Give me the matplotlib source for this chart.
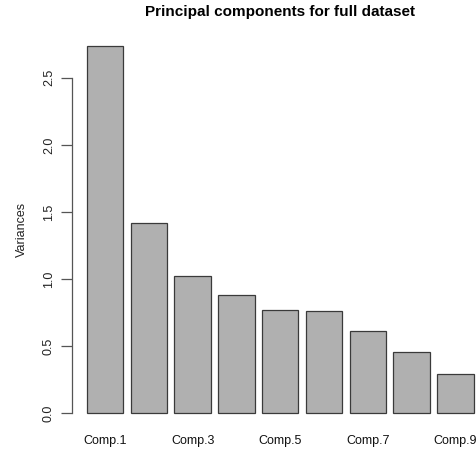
import matplotlib
matplotlib.use("Agg")
import matplotlib.pyplot as plt
import numpy as np

categories = ["Comp.1", "Comp.2", "Comp.3", "Comp.4", "Comp.5", "Comp.6", "Comp.7", "Comp.8", "Comp.9"]
variances = [2.74, 1.418, 1.025, 0.883, 0.771, 0.763, 0.614, 0.457, 0.293]
yticks = [0.0, 0.5, 1.0, 1.5, 2.0, 2.5]

plt.rcParams['font.family'] = ['Liberation Sans', 'DejaVu Sans']

fig = plt.figure(figsize=(4.77, 4.5), dpi=100)
# R-like plot region (the right side extends past the image edge, as in the reference)
left = 71.5 / 477
right = 489.0 / 477
bottom = 1 - 427.7 / 450
top = 1 - 31.0 / 450
ax = fig.add_axes([left, bottom, right - left, top - bottom])

n = len(variances)
x = 0.2 + 1.2 * np.arange(n) + 0.5
ax.bar(x, variances, width=1.0, color="#b0b0b0", edgecolor="#3a3a3a", linewidth=0.9)

xr = (0.2, 1.2 * n)
pad = 0.04 * (xr[1] - xr[0])
ax.set_xlim(xr[0] - pad, xr[1] + pad)
ymax = max(variances)
ax.set_ylim(-0.04 * ymax, ymax * 1.04)

for s in ["top", "right", "bottom"]:
    ax.spines[s].set_visible(False)
ax.spines["left"].set_bounds(yticks[0], yticks[-1])
ax.spines["left"].set_color("#555555")
ax.spines["left"].set_linewidth(0.9)

ax.set_yticks(yticks)
ax.set_yticklabels([f"{v:.1f}" for v in yticks], rotation=90, va="center", fontsize=9, color="#222222")
ax.tick_params(axis="y", length=8, width=0.9, color="#555555", pad=4)

show = [0, 2, 4, 6, 8]
ax.set_xticks([x[i] for i in show])
ax.set_xticklabels([categories[i] for i in show], fontsize=9, color="#111111")
ax.tick_params(axis="x", length=0, pad=5)

ax.set_ylabel("Variances", fontsize=9, color="#222222", labelpad=11)
fig.text((left + right) / 2, 1 - 12.0 / 450, "Principal components for full dataset",
         ha="center", va="center", fontsize=11, fontweight="bold")

fig.savefig("out.png", dpi=100)
